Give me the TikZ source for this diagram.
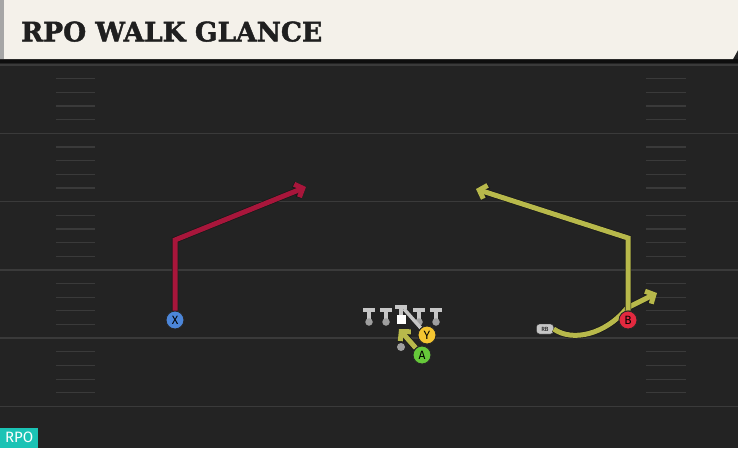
\documentclass[tikz,border=0pt]{standalone}
\usepackage{graphicx}
\usepackage{fontspec}
\setsansfont{Fira Sans}
\newfontfamily\titlefont{DejaVu Serif}[FakeBold=1.6]
\usetikzlibrary{arrows.meta}
\definecolor{field}{HTML}{232323}
\definecolor{yardline}{HTML}{3A3A3A}
\definecolor{paper}{HTML}{F4F1EA}
\definecolor{redroute}{HTML}{A8163B}
\definecolor{oliveroute}{HTML}{B8B94B}
\definecolor{lineman}{HTML}{C6C6C6}
\definecolor{teal}{HTML}{1BC3B5}
\definecolor{xblue}{HTML}{4C86D9}
\definecolor{yyellow}{HTML}{F4C531}
\definecolor{agreen}{HTML}{66C93A}
\definecolor{bred}{HTML}{E3293F}

\begin{document}
\begin{tikzpicture}[
  x=1pt,y=-1pt,
  player/.style={circle,draw=black!85,line width=0.9pt,minimum size=18pt,
    inner sep=0pt,font={\sffamily\fontsize{12}{12}\selectfont}},
  dot/.style={circle,fill=gray!75,inner sep=0pt,minimum size=7.5pt},
  route/.style={line width=5pt,line join=miter,
    -{Straight Barb[length=6.5pt,width=14pt]},
    preaction={draw=black!90,line width=6.4pt,-{Straight Barb[length=6.5pt,width=14pt]}}},
  ]
  \useasboundingbox (0,0) rectangle (738,448);
  % Field
  \fill[field] (0,0) rectangle (738,448);
  \foreach \k in {0,...,5}
    \draw[yardline,line width=1.5pt] (0,65+68.3*\k) -- (738,65+68.3*\k);
  % Hash marks
  \foreach \k in {0,...,4}
    \foreach \h in {1,2,3,4}{
      \draw[yardline,line width=1.2pt] (56,65+68.3*\k+13.66*\h) -- (95,65+68.3*\k+13.66*\h);
      \draw[yardline,line width=1.2pt] (646,65+68.3*\k+13.66*\h) -- (686,65+68.3*\k+13.66*\h);
    }
  % Title bar
  \fill[black!60!field] (0,59) rectangle (738,63);
  \fill[paper] (0,0) -- (738,0) -- (738,50) -- (733,59) -- (0,59) -- cycle;
  \fill[gray!70] (0,0) rectangle (4,59);
  \node[anchor=south west,inner sep=0pt,text=black!88] (title) at (21,42)
    {\resizebox{301pt}{20pt}{\titlefont\bfseries RPO WALK GLANCE}};
  % Tag
  \node[fill=teal,text=white,anchor=south west,minimum width=38pt,minimum height=20pt,
    inner sep=0pt,font={\sffamily\fontsize{15}{15}\selectfont}] (tag) at (0,448) {RPO};

  % Offensive line
  \foreach \x/\n in {369/LT,386/LG,419/RG,436/RT}{
    \draw[lineman,line width=4pt] (\x-6,310) -- (\x+6,310);
    \draw[lineman,line width=4pt] (\x,310) -- (\x,321);
    \node[dot] (\n) at (\x,322) {};
  }
  \draw[lineman,line width=4pt] (395,307) -- (407,307);
  \draw[lineman,line width=4pt] (401,307) -- (401,315);
  \node[fill=white,minimum size=9pt,inner sep=0pt] (C) at (401,319) {};
  \node[dot,minimum size=8pt] (QB) at (401,347) {};

  % Players
  \node[player,fill=xblue] (X) at (175,320) {X};
  \node[player,fill=yyellow] (Y) at (427,335) {Y};
  \node[player,fill=agreen] (A) at (422,355) {A};
  \node[player,fill=bred] (B) at (628,320) {B};
  \node[draw=black!80,fill=lineman,rounded corners=3pt,minimum width=17pt,minimum height=10pt,
    inner sep=0pt,font={\sffamily\fontsize{6}{6}\selectfont}] (RB) at (545,329) {RB};
  \coordinate (xbreak) at (175,240);
  \coordinate (xend) at (306,187);
  \coordinate (bbreak) at (628,238);
  \coordinate (bend) at (476,189);
  \coordinate (rbcut) at (627,308);
  \coordinate (rbend) at (657,293);
  \coordinate (yblock) at (404,309);
  \coordinate (aend) at (399,329);

  % Routes
  \draw[lineman,line width=3.5pt] (Y) -- (yblock);
  \draw[route,redroute] (X.north) -- (xbreak) -- (xend);
  \draw[route,oliveroute] (RB.east) .. controls (572,342) and (605,335) .. (rbcut) -- (rbend);
  \draw[route,oliveroute] (B.north) -- (bbreak) -- (bend);
  \draw[route,oliveroute] (A) -- (aend);
  % Players on top
  \node[player,fill=yyellow] at (Y) {Y};
  \node[player,fill=agreen] at (A) {A};
  \node[player,fill=bred] at (B) {B};
\end{tikzpicture}
\end{document}
